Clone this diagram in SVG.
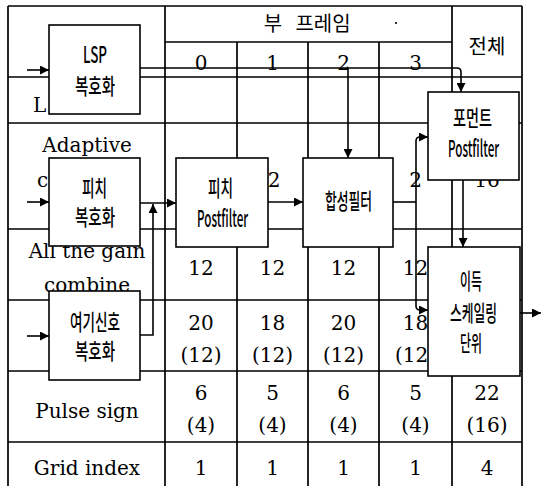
<svg xmlns="http://www.w3.org/2000/svg" width="542" height="486" viewBox="0 0 542 486">
<defs>
<style>
.grid{stroke:#000;stroke-width:1.7;fill:none}
.t{font-family:"DejaVu Serif","Liberation Serif",serif;font-size:20px;fill:#000;text-anchor:middle}
.tl{font-family:"DejaVu Serif","Liberation Serif",serif;font-size:20px;fill:#000}
.k{font-family:"Noto Sans CJK KR","Noto Sans",sans-serif;font-size:20px;fill:#000;text-anchor:middle}
.box{fill:#fff;stroke:#000;stroke-width:1.6}
.b{font-family:"Noto Sans CJK KR","Noto Sans",sans-serif;font-size:22px;font-weight:500;fill:#000;text-anchor:middle}
.bl{font-family:"Noto Sans CJK KR","Noto Sans",sans-serif;font-size:23px;font-weight:500;fill:#000;text-anchor:middle}
.c{stroke:#000;stroke-width:1.6;fill:none}
</style>
<marker id="ah" markerWidth="10" markerHeight="9" refX="9" refY="4.5" orient="auto" markerUnits="userSpaceOnUse">
<path d="M0,0 L9,4.5 L0,9 Z" fill="#000"/>
</marker>
</defs>
<rect width="542" height="486" fill="#fff"/>

<g id="table">
<path class="grid" d="M8,6 H522 M8,6 V486 M522,6 V486 M165,6 V486 M452,6 V486 M237,42 V486 M308,42 V486 M379,42 V486 M165,42 H452 M8,77 H522 M8,123 H522 M8,229 H522 M8,300 H522 M8,371 H522 M8,442 H522"/>
<circle cx="396" cy="23" r="1.1" fill="#000"/>
<text class="k" y="31"><tspan x="273">부</tspan><tspan x="323">프레임</tspan></text>
<text class="k" x="487" y="54">전체</text>
<text class="t" y="70"><tspan x="201">0</tspan><tspan x="272.5">1</tspan><tspan x="343.5">2</tspan><tspan x="415.5">3</tspan></text>
<text class="tl" x="33" y="112">L</text>
<text class="t" x="87" y="152">Adaptive</text>
<text class="tl" x="37" y="187">c</text>
<text class="t" x="87" y="258">All the gain</text>
<text class="t" x="87" y="292">combine</text>
<text class="t" x="87" y="418">Pulse sign</text>
<text class="t" x="87" y="475">Grid index</text>
<text class="t" y="187"><tspan x="274">2</tspan><tspan x="415.5">2</tspan><tspan x="487">16</tspan></text>
<text class="t" y="275"><tspan x="201">12</tspan><tspan x="272.5">12</tspan><tspan x="343.5">12</tspan><tspan x="415.5">12</tspan></text>
<text class="t" y="330"><tspan x="201">20</tspan><tspan x="272.5">18</tspan><tspan x="343.5">20</tspan><tspan x="415.5">18</tspan></text>
<text class="t" y="362"><tspan x="201">(12)</tspan><tspan x="272.5">(12)</tspan><tspan x="343.5">(12)</tspan><tspan x="415.5">(12)</tspan></text>
<text class="t" y="400"><tspan x="201">6</tspan><tspan x="272.5">5</tspan><tspan x="343.5">6</tspan><tspan x="415.5">5</tspan><tspan x="487">22</tspan></text>
<text class="t" y="432"><tspan x="201">(4)</tspan><tspan x="272.5">(4)</tspan><tspan x="343.5">(4)</tspan><tspan x="415.5">(4)</tspan><tspan x="487">(16)</tspan></text>
<text class="t" y="475"><tspan x="201">1</tspan><tspan x="272.5">1</tspan><tspan x="343.5">1</tspan><tspan x="415.5">1</tspan><tspan x="487">4</tspan></text>
</g>

<g id="connectors">
<path class="c" d="M27,70 H49" marker-end="url(#ah)"/>
<path class="c" d="M27,202 H49" marker-end="url(#ah)"/>
<path class="c" d="M27,336 H49" marker-end="url(#ah)"/>
<path class="c" d="M140,203 H176" marker-end="url(#ah)"/>
<path class="c" d="M140,335 H153 V204" marker-end="url(#ah)"/>
<path class="c" d="M268,202 H303" marker-end="url(#ah)"/>
<path class="c" d="M140,68 H457 Q461,68 461,72 V92" marker-end="url(#ah)"/>
<path class="c" d="M348,68 V158" marker-end="url(#ah)"/>
<path class="c" d="M393,202 H416"/>
<path class="c" d="M416,202 V141 Q416,137 420,137 H428" marker-end="url(#ah)"/>
<path class="c" d="M416,202 V306 Q416,310 420,310 H428" marker-end="url(#ah)"/>
<path class="c" d="M463,180 V247" marker-end="url(#ah)"/>
<path class="c" d="M520,313 H541" marker-end="url(#ah)"/>
</g>

<g id="lsp">
<rect class="box" x="49" y="25" width="91" height="89"/>
<text class="bl" transform="translate(95,63) scale(0.667,1)" x="0" y="0" textLength="36" lengthAdjust="spacingAndGlyphs">LSP</text>
<text class="b" x="95" y="94" textLength="40" lengthAdjust="spacingAndGlyphs">복호화</text>
</g>
<g id="pitch-dec">
<rect class="box" x="49" y="158" width="91" height="88"/>
<text class="b" x="94.5" y="196" textLength="25" lengthAdjust="spacingAndGlyphs">피치</text>
<text class="b" x="95" y="225" textLength="40" lengthAdjust="spacingAndGlyphs">복호화</text>
</g>
<g id="excitation-dec">
<rect class="box" x="49" y="291" width="91" height="89"/>
<text class="b" x="95" y="330" textLength="50" lengthAdjust="spacingAndGlyphs">여기신호</text>
<text class="b" x="95" y="359" textLength="40" lengthAdjust="spacingAndGlyphs">복호화</text>
</g>
<g id="pitch-postfilter">
<rect class="box" x="176" y="158" width="92" height="89"/>
<text class="b" x="220.5" y="196" textLength="25" lengthAdjust="spacingAndGlyphs">피치</text>
<text class="bl" transform="translate(222.5,227) scale(0.58,1)" x="0" y="0" textLength="88" lengthAdjust="spacingAndGlyphs">Postfilter</text>
</g>
<g id="synthesis-filter">
<rect class="box" x="303" y="158" width="90" height="89"/>
<text class="b" x="348.5" y="209" textLength="47" lengthAdjust="spacingAndGlyphs">합성필터</text>
</g>
<g id="formant-postfilter">
<rect class="box" x="428" y="92" width="91" height="88"/>
<text class="b" x="472.5" y="126" textLength="39" lengthAdjust="spacingAndGlyphs">포먼트</text>
<text class="bl" transform="translate(473.5,157) scale(0.58,1)" x="0" y="0" textLength="88" lengthAdjust="spacingAndGlyphs">Postfilter</text>
</g>
<g id="gain-scaling">
<rect class="box" x="428" y="247" width="92" height="129"/>
<text class="b" x="471" y="289" textLength="22" lengthAdjust="spacingAndGlyphs">이득</text>
<text class="b" x="473.5" y="321" textLength="47" lengthAdjust="spacingAndGlyphs">스케일링</text>
<text class="b" x="471" y="351" textLength="22" lengthAdjust="spacingAndGlyphs">단위</text>
</g>
</svg>
